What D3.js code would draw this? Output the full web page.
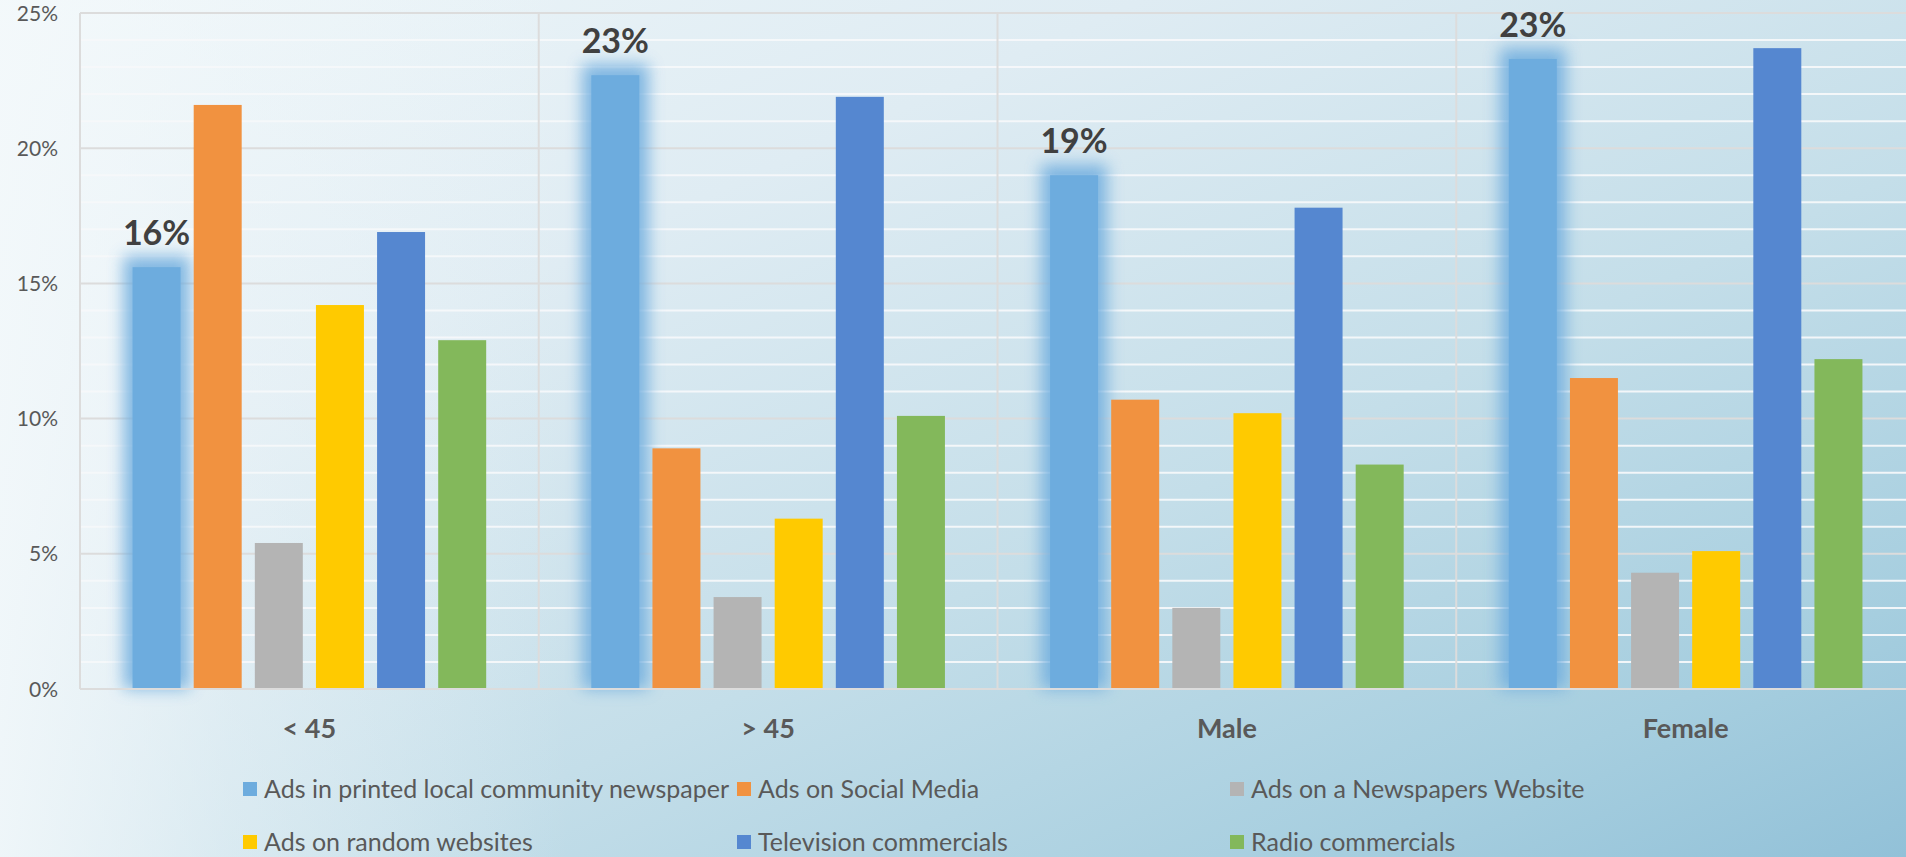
<!DOCTYPE html>
<html>
<head>
<meta charset="utf-8">
<script src="https://cdn.jsdelivr.net/npm/d3@7"></script>
<style>
  html, body { margin: 0; padding: 0; overflow: hidden; }
  svg { display: block; font-family: Lato, "Open Sans", sans-serif; }
</style>
</head>
<body>
<svg id="chart" width="1906" height="857"></svg>
<script>
const categories = ["< 45", "> 45", "Male", "Female"];
const seriesNames = [
  "Ads in printed local community newspaper",
  "Ads on Social Media",
  "Ads on a Newspapers Website",
  "Ads on random websites",
  "Television commercials",
  "Radio commercials"
];
const seriesColors = ["#6DACDE", "#F19240", "#B4B4B4", "#FFCA00", "#5587D0", "#83B85B"];
const printedLocal   = [15.6, 22.7, 19.0, 23.3];
const socialMedia    = [21.6, 8.9, 10.7, 11.5];
const newspaperSite  = [5.4, 3.4, 3.0, 4.3];
const randomSites    = [14.2, 6.3, 10.2, 5.1];
const television     = [16.9, 21.9, 17.8, 23.7];
const radio          = [12.9, 10.1, 8.3, 12.2];
const yTicks = [0, 5, 10, 15, 20, 25];

const seriesValues = [printedLocal, socialMedia, newspaperSite, randomSites, television, radio];

const W = 1906, H = 857;
const margin = { left: 80, top: 13, right: -9, bottom: 168 };
const plotL = margin.left, plotR = W - margin.right, plotT = margin.top, plotB = H - margin.bottom;

const svg = d3.select("#chart");
const defs = svg.append("defs");

// background gradient
const bg = defs.append("linearGradient").attr("id", "bg")
  .attr("x1", "0%").attr("y1", "0%").attr("x2", "100%").attr("y2", "100%");
bg.append("stop").attr("offset", "0%").attr("stop-color", "#EEF6F9");
bg.append("stop").attr("offset", "30%").attr("stop-color", "#DFECF3");
bg.append("stop").attr("offset", "60%").attr("stop-color", "#C4DEE9");
bg.append("stop").attr("offset", "85%").attr("stop-color", "#A6CEDF");
bg.append("stop").attr("offset", "100%").attr("stop-color", "#92C1D8");
const bgL = defs.append("linearGradient").attr("id", "bgL")
  .attr("x1", "0%").attr("y1", "0%").attr("x2", "100%").attr("y2", "0%");
bgL.append("stop").attr("offset", "0%").attr("stop-color", "#F4F9FB").attr("stop-opacity", 0.85);
bgL.append("stop").attr("offset", "12%").attr("stop-color", "#F4F9FB").attr("stop-opacity", 0.4);
bgL.append("stop").attr("offset", "30%").attr("stop-color", "#F4F9FB").attr("stop-opacity", 0);

svg.append("rect").attr("width", W).attr("height", H).attr("fill", "url(#bg)");
svg.append("rect").attr("width", W).attr("height", H).attr("fill", "url(#bgL)");

const glow = defs.append("filter").attr("id", "glow")
  .attr("x", "-100%").attr("y", "-20%").attr("width", "300%").attr("height", "140%");
glow.append("feGaussianBlur").attr("stdDeviation", 8);

const x0 = d3.scaleBand().domain(categories).range([plotL, plotR]).paddingInner(0).paddingOuter(0);
const x1 = d3.scaleBand().domain(d3.range(seriesNames.length)).range([0, x0.bandwidth()])
  .paddingInner(0.215).paddingOuter(0.86);
const y = d3.scaleLinear().domain([0, 25]).range([plotB, plotT]);

// minor grid
const minor = d3.range(1, 25).filter(v => v % 5 !== 0);
svg.append("g").selectAll("line").data(minor).join("line")
  .attr("x1", plotL).attr("x2", plotR)
  .attr("y1", d => y(d)).attr("y2", d => y(d))
  .attr("stroke", "#F5F8FA").attr("stroke-opacity", 0.95).attr("stroke-width", 2);
// major grid
svg.append("g").selectAll("line").data(yTicks).join("line")
  .attr("x1", plotL).attr("x2", plotR)
  .attr("y1", d => y(d)).attr("y2", d => y(d))
  .attr("stroke", "#DCDCDC").attr("stroke-width", 2);
// vertical grid
svg.append("g").selectAll("line").data(categories).join("line")
  .attr("x1", d => x0(d)).attr("x2", d => x0(d))
  .attr("y1", plotT).attr("y2", plotB)
  .attr("stroke", "#DCDCDC").attr("stroke-width", 2);

// y axis labels
const yAxis = d3.axisLeft(y).tickValues(yTicks).tickFormat(d => d + "%").tickSize(0).tickPadding(0);
const ya = svg.append("g").attr("transform", `translate(${plotL - 22},0)`).call(yAxis);
ya.select(".domain").remove();
ya.selectAll("text").attr("font-size", 21).attr("fill", "#595959")
  .attr("font-family", "Lato, sans-serif").attr("dy", "0.34em");

// bars
const groups = svg.append("g").selectAll("g").data(categories).join("g")
  .attr("transform", d => `translate(${x0(d)},0)`);

// glow behind first series
groups.append("rect")
  .attr("x", (d, i) => x1(0) - 9)
  .attr("width", x1.bandwidth() + 18)
  .attr("y", (d, i) => y(printedLocal[i]) - 11)
  .attr("height", (d, i) => y(0) - y(printedLocal[i]) + 11)
  .attr("fill", "#6DACDE").attr("opacity", 0.85)
  .attr("filter", "url(#glow)");

groups.selectAll("rect.bar")
  .data((d, i) => seriesValues.map((s, k) => ({ k, v: s[i] })))
  .join("rect").attr("class", "bar")
  .attr("x", d => x1(d.k))
  .attr("width", x1.bandwidth())
  .attr("y", d => y(d.v))
  .attr("height", d => y(0) - y(d.v))
  .attr("fill", d => seriesColors[d.k]);

// data labels for first series
groups.append("text")
  .attr("x", x1(0) + x1.bandwidth() / 2)
  .attr("y", (d, i) => y(printedLocal[i]) - 22)
  .attr("text-anchor", "middle")
  .attr("font-size", 34).attr("font-weight", "bold").attr("fill", "#404040")
  .text((d, i) => d3.format(".0f")(printedLocal[i]) + "%");

// x axis line
svg.append("line").attr("x1", plotL).attr("x2", plotR).attr("y1", y(0)).attr("y2", y(0))
  .attr("stroke", "#DCDCDC").attr("stroke-width", 2);

// x labels
svg.append("g").selectAll("text").data(categories).join("text")
  .attr("x", d => x0(d) + x0.bandwidth() / 2)
  .attr("y", 738)
  .attr("text-anchor", "middle")
  .attr("font-size", 27).attr("font-weight", "bold").attr("fill", "#595959")
  .text(d => d);

// legend
const legendCols = [243, 737, 1230];
const legendRows = [798, 851];
const lg = svg.append("g").selectAll("g").data(seriesNames).join("g")
  .attr("transform", (d, i) => `translate(${legendCols[i % 3]},${legendRows[Math.floor(i / 3)]})`);
lg.append("rect").attr("x", 0).attr("y", -16).attr("width", 14).attr("height", 14)
  .attr("fill", (d, i) => seriesColors[i]);
lg.append("text").attr("x", 21).attr("y", 0)
  .attr("font-size", 25).attr("fill", "#595959")
  .text(d => d);
</script>
</body>
</html>
